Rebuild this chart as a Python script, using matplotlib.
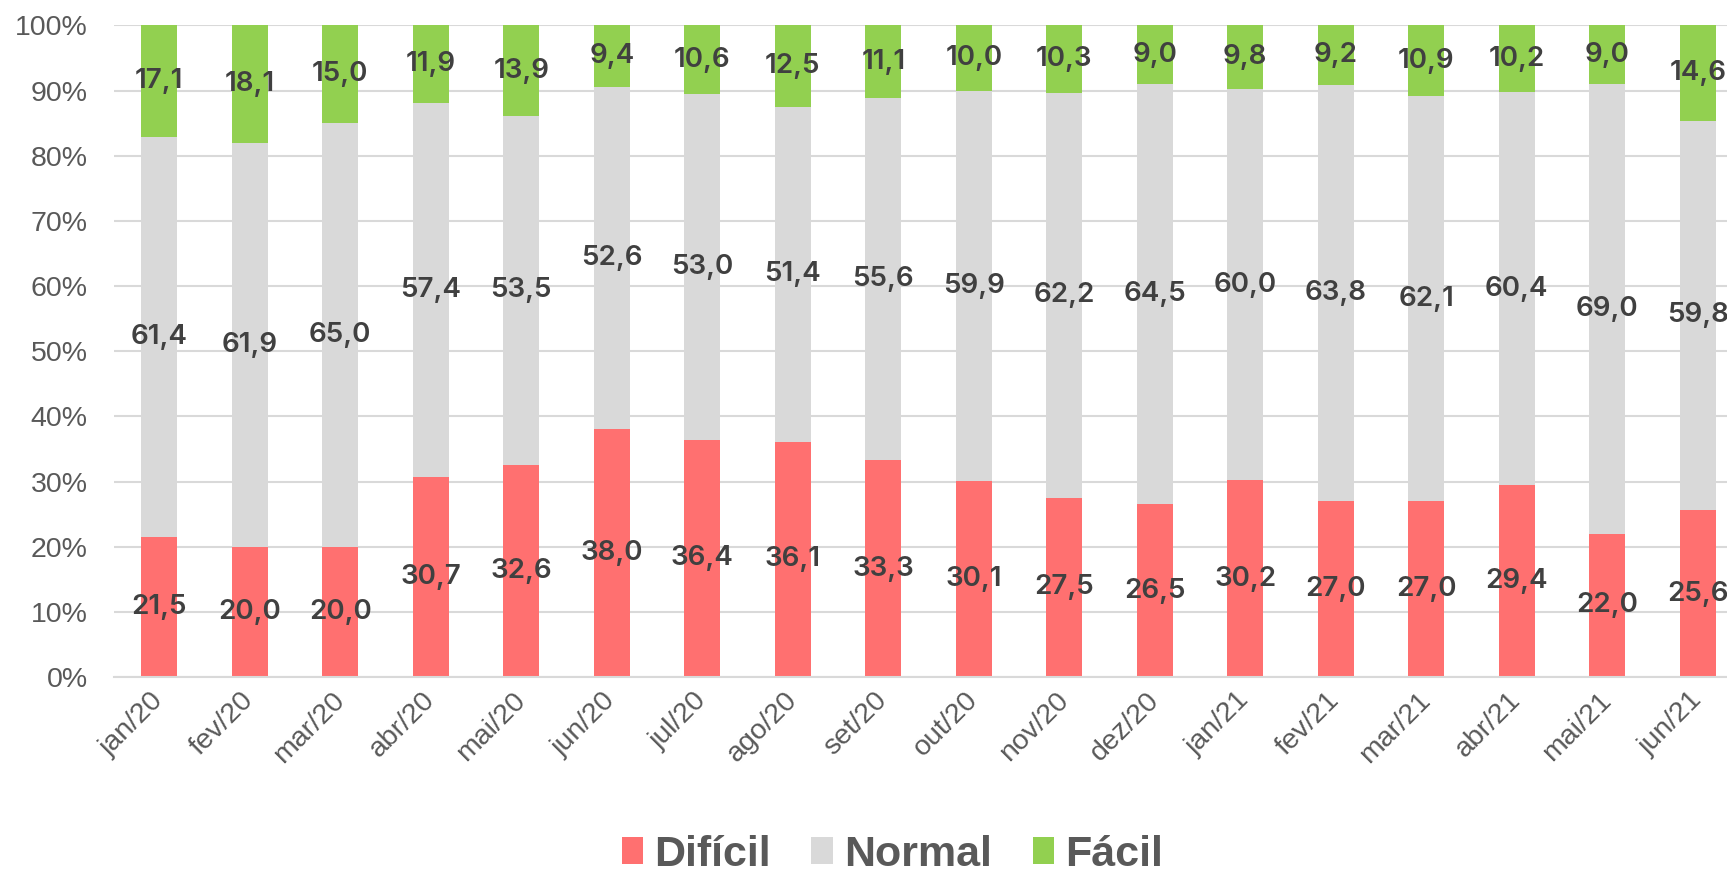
import matplotlib
matplotlib.use("Agg")
import matplotlib.pyplot as plt
import numpy as np
from matplotlib.patches import Patch

months = ["jan/20", "fev/20", "mar/20", "abr/20", "mai/20", "jun/20", "jul/20", "ago/20",
          "set/20", "out/20", "nov/20", "dez/20", "jan/21", "fev/21", "mar/21", "abr/21",
          "mai/21", "jun/21"]
dificil = [21.5, 20.0, 20.0, 30.7, 32.6, 38.0, 36.4, 36.1, 33.3, 30.1, 27.5, 26.5,
           30.2, 27.0, 27.0, 29.4, 22.0, 25.6]
normal = [61.4, 61.9, 65.0, 57.4, 53.5, 52.6, 53.0, 51.4, 55.6, 59.9, 62.2, 64.5,
          60.0, 63.8, 62.1, 60.4, 69.0, 59.8]
facil = [17.1, 18.1, 15.0, 11.9, 13.9, 9.4, 10.6, 12.5, 11.1, 10.0, 10.3, 9.0,
         9.8, 9.2, 10.9, 10.2, 9.0, 14.6]

series = [("Difícil", dificil, "#FF7070"),
          ("Normal", normal, "#D9D9D9"),
          ("Fácil", facil, "#92D050")]

fig = plt.figure(figsize=(17.27, 8.82), dpi=100)
ax = fig.add_axes([0.066, 0.2324, 0.9433, 0.7388])

x = np.arange(len(months))
bottom = np.zeros(len(months))
for name, vals, color in series:
    vals = np.array(vals)
    ax.bar(x, vals, 0.4, bottom=bottom, color=color, zorder=2)
    for xi, b, v in zip(x, bottom, vals):
        ax.text(xi, b + v / 2, f"{v:.1f}".replace(".", ","), ha="center", va="center",
                fontsize=20, color="#404040", family="Inter", fontweight="semibold",
                zorder=3)
    bottom += vals

ax.set_xlim(-0.5, len(months) - 0.5)
ax.set_ylim(0, 100)
ax.set_yticks(np.arange(0, 101, 10))
ax.set_yticklabels([f"{v}%" for v in range(0, 101, 10)])
ax.grid(axis="y", color="#D9D9D9", linewidth=1.5, zorder=0)
for s in ["top", "right", "left"]:
    ax.spines[s].set_visible(False)
ax.spines["bottom"].set_color("#D9D9D9")
ax.spines["bottom"].set_linewidth(1.5)
ax.tick_params(length=0)
ax.tick_params(axis="y", pad=19, labelsize=20.5, labelcolor="#595959")
ax.tick_params(axis="x", pad=14, labelsize=20.5, labelcolor="#595959")
ax.set_xticks(x)
ax.set_xticklabels(months, rotation=45, ha="right", va="center", rotation_mode="anchor")
for lbl in ax.get_xticklabels() + ax.get_yticklabels():
    lbl.set_family("Liberation Sans")

handles = [Patch(facecolor=c, label=n) for n, _, c in series]
leg = fig.legend(handles=handles, loc="lower center", bbox_to_anchor=(0.5166, -0.036),
                 ncol=3, frameon=False, handlelength=0.5, handleheight=0.6,
                 handletextpad=0.25, columnspacing=0.95,
                 prop={"family": "Liberation Sans", "weight": "bold", "size": 31})
for t in leg.get_texts():
    t.set_color("#595959")

fig.savefig("out.png", dpi=100)
